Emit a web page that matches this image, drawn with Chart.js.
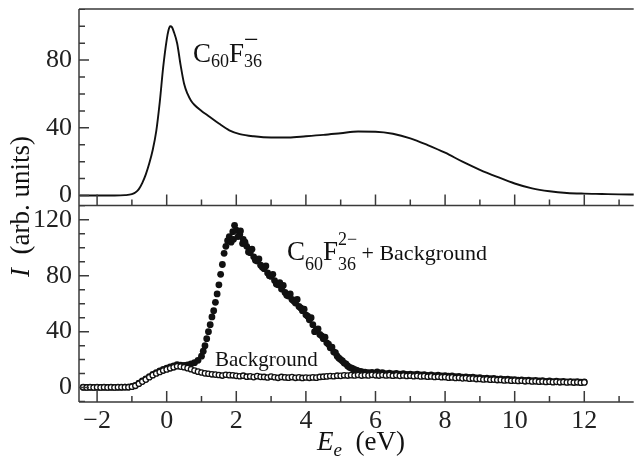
<!DOCTYPE html>
<html>
<head>
<meta charset="utf-8">
<script src="https://cdn.jsdelivr.net/npm/chart.js@4"></script>
<style>
  body { margin: 0; background: #fff; }
  canvas { display: block; }
</style>
</head>
<body>
<canvas id="spec" width="639" height="466"></canvas>
<script>
const ink = '#111';
const axisCol = '#3a3a3a';
const serif = '"Liberation Serif", "DejaVu Serif", serif';

// top panel: C60F36- spectrum
const topE = [-2.5, -2.0, -1.5, -1.2, -1.0, -0.9, -0.8, -0.7, -0.6, -0.5, -0.4, -0.3, -0.2, -0.1,
  0.0, 0.05, 0.1, 0.15, 0.2, 0.3, 0.4, 0.5, 0.6, 0.7, 0.8, 1.0, 1.2, 1.5, 1.8, 2.1, 2.5,
  3.0, 3.5, 4.0, 4.5, 5.0, 5.5, 6.0, 6.5, 7.0, 7.5, 8.0, 8.5, 9.0, 9.5, 10.0, 10.5,
  11.0, 11.5, 12.0, 12.5, 13.0, 13.45];
const topI = [0, 0, 0, 0.2, 0.8, 1.8, 3.8, 7.5, 12.5, 19, 27, 38, 55, 76,
  92, 97.5, 100, 99.5, 97, 90, 77, 66, 60, 56, 53.5, 50, 47, 42.5, 38.5, 36.3, 35,
  34.3, 34.3, 35, 35.8, 36.8, 37.8, 37.7, 36.5, 33.8, 29.8, 25.3, 20, 15.2, 11, 7.1, 4.2,
  2.5, 1.5, 1.1, 0.9, 0.7, 0.6];

// bottom panel energy grid (eV)
const energy = [-2.4, -2.3, -2.2, -2.1, -2.0, -1.9, -1.8, -1.7, -1.6, -1.5, -1.4, -1.3, -1.2, -1.1,
  -1.0, -0.9, -0.8, -0.7, -0.6, -0.5, -0.4, -0.3, -0.2, -0.1,
  0.0, 0.1, 0.2, 0.3, 0.4, 0.5, 0.6, 0.7, 0.8, 0.9,
  1.0, 1.1, 1.2, 1.3, 1.4, 1.5, 1.6, 1.7, 1.8, 1.9,
  2.0, 2.1, 2.2, 2.3, 2.4, 2.5, 2.6, 2.7, 2.8, 2.9,
  3.0, 3.1, 3.2, 3.3, 3.4, 3.5, 3.6, 3.7, 3.8, 3.9,
  4.0, 4.1, 4.2, 4.3, 4.4, 4.5, 4.6, 4.7, 4.8, 4.9,
  5.0, 5.1, 5.2, 5.3, 5.4, 5.5, 5.6, 5.7, 5.8, 5.9,
  6.0, 6.1, 6.2, 6.3, 6.4, 6.5, 6.6, 6.7, 6.8, 6.9,
  7.0, 7.1, 7.2, 7.3, 7.4, 7.5, 7.6, 7.7, 7.8, 7.9,
  8.0, 8.1, 8.2, 8.3, 8.4, 8.5, 8.6, 8.7, 8.8, 8.9,
  9.0, 9.1, 9.2, 9.3, 9.4, 9.5, 9.6, 9.7, 9.8, 9.9,
  10.0, 10.1, 10.2, 10.3, 10.4, 10.5, 10.6, 10.7, 10.8, 10.9,
  11.0, 11.1, 11.2, 11.3, 11.4, 11.5, 11.6, 11.7, 11.8, 11.9, 12.0];

const background = [0.2, 0.1, 0.2, 0.1, 0.2, 0.1, 0.2, 0.1, 0.2, 0.1, 0.2, 0.2, 0.3, 0.3,
  0.6, 1.3, 2.8, 4.3, 5.7, 7.4, 8.9, 10.1, 11.2, 12.2,
  13.0, 13.8, 14.5, 15.3, 15.0, 14.6, 13.9, 13.1, 12.2, 11.4,
  10.8, 10.2, 9.9, 9.5, 9.3, 9.0, 8.6, 9.2, 8.9, 8.8,
  8.4, 8.1, 8.5, 7.8, 8.0, 7.5, 8.2, 7.7, 7.6, 7.2,
  7.9, 7.4, 7.0, 7.6, 7.3, 7.1, 7.5, 7.0, 7.3, 6.9,
  7.2, 7.0, 7.3, 7.1, 7.6, 7.8, 8.0, 8.3, 8.1, 8.5,
  8.4, 8.8, 8.6, 8.9, 8.7, 9.0, 8.6, 8.9, 8.7, 9.1,
  8.8, 8.6, 9.0, 8.7, 8.9, 8.5, 8.8, 8.4, 8.7, 8.3,
  8.5, 8.1, 8.4, 8.0, 8.2, 7.8, 8.0, 7.6, 7.8, 7.4,
  7.5, 7.1, 7.3, 6.9, 7.0, 6.6, 6.8, 6.4, 6.5, 6.1,
  6.2, 5.8, 6.0, 5.6, 5.7, 5.4, 5.5, 5.1, 5.3, 4.9,
  5.0, 4.7, 4.9, 4.5, 4.7, 4.4, 4.5, 4.2, 4.4, 4.0,
  4.2, 3.9, 4.1, 3.8, 4.0, 3.7, 3.9, 3.6, 3.8, 3.5, 3.7];

const signal = [0.3, 0.2, 0.3, 0.2, 0.3, 0.2, 0.3, 0.2, 0.3, 0.2, 0.3, 0.3, 0.4, 0.4,
  0.8, 1.6, 3.2, 4.8, 6.2, 7.9, 9.5, 10.7, 11.9, 13.0,
  13.9, 14.8, 15.6, 16.4, 16.0, 15.8, 16.3, 17.0, 17.8, 19.5,
  22.5, 30.0, 40.0, 50.5, 61.0, 73.5, 88.0, 101.0, 108.0, 111.5,
  112.5, 109.5, 106.0, 101.0, 96.5, 93.5, 90.5, 87.5, 85.0, 82.0,
  79.5, 76.5, 73.5, 70.5, 68.0, 65.5, 63.0, 60.5, 58.0, 55.0,
  52.0, 48.5, 45.0, 41.5, 38.0, 35.0, 32.0, 28.5, 25.5, 22.5,
  20.0, 17.5, 15.5, 14.0, 12.8, 12.0, 11.4, 11.0, 10.6, 10.8,
  10.4, 10.1, 10.6, 10.0, 10.3, 9.8, 10.2, 9.6, 10.0, 9.5,
  9.7, 9.2, 9.6, 9.0, 9.3, 8.8, 9.1, 8.6, 8.9, 8.4,
  8.6, 8.1, 8.3, 7.8, 8.0, 7.5, 7.7, 7.3, 7.4, 7.0,
  7.1, 6.6, 6.8, 6.4, 6.5, 6.1, 6.3, 5.8, 6.0, 5.6,
  5.7, 5.3, 5.5, 5.1, 5.3, 4.9, 5.1, 4.7, 4.9, 4.5,
  4.7, 4.3, 4.6, 4.2, 4.4, 4.1, 4.3, 4.0, 4.2, 3.9, 4.1];

// extra scattered points of the C60F36 2- + background data
const peakE = [1.05, 1.15, 1.25, 1.35, 1.45, 1.55, 1.65, 1.75, 1.85, 1.92, 1.95, 2.05, 2.12, 2.18,
  2.25, 2.35, 2.45, 2.55, 2.65, 2.75, 2.85, 2.95, 3.05, 3.15, 3.25, 3.35, 3.45, 3.55, 3.65,
  3.75, 3.85, 3.95, 4.05, 4.15, 4.25, 4.35, 4.45, 4.55, 4.65, 4.75, 4.85, 4.95, 5.05, 5.15,
  5.25, 5.35, 5.45, 5.55, 6.05, 6.15];
const peakI = [26, 35, 45, 55, 67, 81, 96, 105, 104, 106, 116, 108, 112, 103,
  104, 97, 99, 91, 92, 86, 87, 80, 81, 74, 75, 73, 66, 67, 62,
  63, 57, 56, 51, 50, 40, 42, 37, 36, 31, 29, 25, 21, 19, 17,
  14.5, 13.5, 12.5, 11.5, 11.3, 10.4];

const xTicks = [-2, 0, 2, 4, 6, 8, 10, 12];
const topTicks = [0, 40, 80];
const lowTicks = [0, 40, 80, 120];

const pairs = (xs, ys) => xs.map((x, i) => ({ x: x, y: ys[i] }));
const minus = v => (v < 0 ? '\u2212' + (-v) : '' + v);
const noPad = s => { s.paddingTop = 0; s.paddingBottom = 0; s.paddingLeft = 0; s.paddingRight = 0; };

function rich(ctx, x, y, parts) {
  for (const p of parts) {
    ctx.font = (p.italic ? 'italic ' : '') + p.size + 'px ' + serif;
    ctx.fillText(p.t, x, y + (p.dy || 0));
    if (!p.hold) x += ctx.measureText(p.t).width;
  }
  return x;
}

const frame = {
  id: 'frame',
  afterDraw(chart) {
    const { ctx, chartArea: a, scales } = chart;
    const sx = scales.x, yT = scales.yTop, yL = scales.yLow;
    ctx.save();
    ctx.strokeStyle = axisCol;
    ctx.lineWidth = 1.5;
    ctx.beginPath();
    ctx.moveTo(a.left, a.top); ctx.lineTo(a.right, a.top);
    ctx.moveTo(a.left, yT.bottom); ctx.lineTo(a.right, yT.bottom);
    ctx.moveTo(a.left, a.bottom); ctx.lineTo(a.right, a.bottom);
    ctx.moveTo(a.left, a.top); ctx.lineTo(a.left, a.bottom);
    for (let v = -2; v <= 13; v++) {
      const px = sx.getPixelForValue(v);
      const len = v % 2 === 0 ? 11 : 6;
      [yT.bottom, a.bottom].forEach(b => { ctx.moveTo(px, b); ctx.lineTo(px, b - len); });
    }
    [yT, yL].forEach(s => {
      for (let v = Math.ceil(s.min / 10) * 10; v <= s.max; v += 10) {
        const py = s.getPixelForValue(v);
        const len = v % 40 === 0 ? 10 : 6;
        ctx.moveTo(a.left, py); ctx.lineTo(a.left + len, py);
      }
    });
    ctx.stroke();

    ctx.fillStyle = ink;
    ctx.textBaseline = 'alphabetic';
    ctx.textAlign = 'left';
    // panel labels
    rich(ctx, 193, 62, [
      { t: 'C', size: 27 }, { t: '60', size: 18, dy: 5 }, { t: 'F', size: 27 },
      { t: '\u2212', size: 26, dy: -14, hold: true }, { t: '36', size: 18, dy: 5 }
    ]);
    rich(ctx, 287, 260, [
      { t: 'C', size: 27 }, { t: '60', size: 18, dy: 10 }, { t: 'F', size: 27 },
      { t: '2\u2212', size: 18, dy: -15, hold: true }, { t: '36', size: 18, dy: 10 },
      { t: ' + Background', size: 22 }
    ]);
    rich(ctx, 215, 366, [{ t: 'Background', size: 21 }]);

    // axis titles
    rich(ctx, 317, 450, [
      { t: 'E', size: 27, italic: true }, { t: 'e', size: 19, italic: true, dy: 6 },
      { t: '  (eV)', size: 27 }
    ]);
    ctx.translate(29, 277);
    ctx.rotate(-Math.PI / 2);
    rich(ctx, 0, 0, [{ t: 'I', size: 27, italic: true }, { t: '  (arb. units)', size: 27 }]);
    ctx.restore();
  }
};

const tickFont = { family: serif, size: 26 };

function draw() {
  new Chart(document.getElementById('spec'), {
    type: 'scatter',
    data: {
      datasets: [
        {
          label: 'C60F36-',
          data: pairs(topE, topI),
          yAxisID: 'yTop',
          showLine: true,
          borderColor: ink,
          borderWidth: 1.9,
          pointRadius: 0,
          cubicInterpolationMode: 'monotone',
          order: 2
        },
        {
          label: 'Background',
          data: pairs(energy, background),
          yAxisID: 'yLow',
          pointRadius: 2.7,
          pointBackgroundColor: '#fff',
          pointBorderColor: ink,
          pointBorderWidth: 1.3,
          order: 0
        },
        {
          label: 'C60F36 2- + Background',
          data: pairs(energy, signal).concat(pairs(peakE, peakI)),
          yAxisID: 'yLow',
          pointRadius: 3.4,
          pointBackgroundColor: ink,
          pointBorderColor: ink,
          pointBorderWidth: 0,
          order: 1
        }
      ]
    },
    options: {
      responsive: false,
      animation: false,
      layout: { padding: { top: 9, right: 0, left: 0, bottom: 0 } },
      plugins: { legend: { display: false }, tooltip: { enabled: false } },
      scales: {
        x: {
          type: 'linear',
          min: -2.52, max: 13.42,
          afterBuildTicks: s => { s.ticks = xTicks.map(v => ({ value: v })); },
          ticks: { font: tickFont, color: '#222', padding: 4, maxRotation: 0, autoSkip: false, callback: v => minus(v) },
          grid: { display: false, drawTicks: false },
          border: { display: false },
          afterFit: s => { s.height = 64; noPad(s); }
        },
        yLow: {
          type: 'linear',
          position: 'left',
          stack: 'panels',
          stackWeight: 1,
          min: -10.3, max: 130.2,
          afterBuildTicks: s => { s.ticks = lowTicks.map(v => ({ value: v })); },
          ticks: { font: tickFont, color: '#222', padding: 7 },
          grid: { display: false, drawTicks: false },
          border: { display: false },
          afterFit: s => { s.width = 79; noPad(s); }
        },
        yTop: {
          type: 'linear',
          position: 'left',
          stack: 'panels',
          stackWeight: 1,
          min: -5.9, max: 110.2,
          afterBuildTicks: s => { s.ticks = topTicks.map(v => ({ value: v })); },
          ticks: { font: tickFont, color: '#222', padding: 7 },
          grid: { display: false, drawTicks: false },
          border: { display: false },
          afterFit: s => { s.width = 79; noPad(s); }
        }
      }
    },
    plugins: [frame]
  });
}

Promise.all([
  document.fonts.load('26px "Liberation Serif"'),
  document.fonts.load('italic 26px "Liberation Serif"')
]).then(draw, draw);
</script>
</body>
</html>
